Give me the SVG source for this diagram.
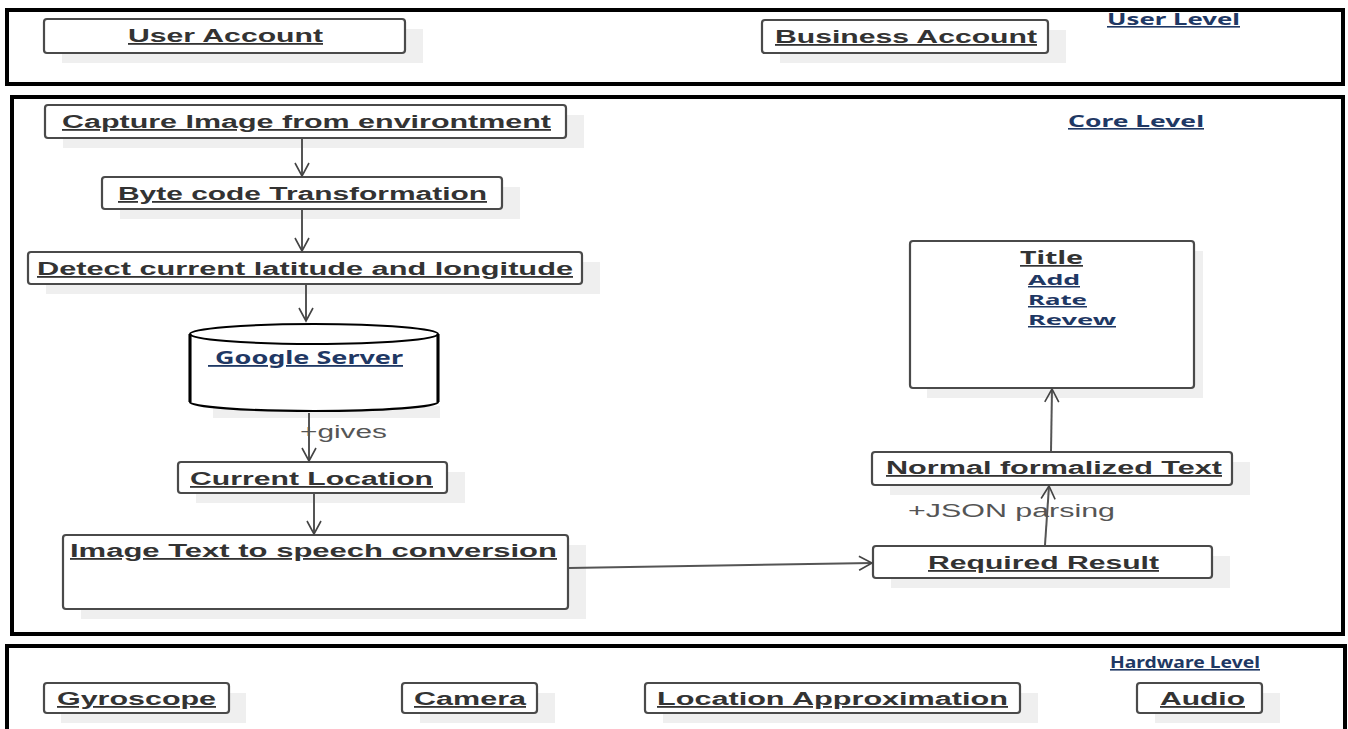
<svg xmlns="http://www.w3.org/2000/svg" width="1348" height="729" viewBox="0 0 1348 729">
<style>
.frame{fill:#fff;stroke:#000;stroke-width:4}
.box{fill:#fff;stroke:#4a4a4a;stroke-width:2.2}
.sh{fill:#efefef;stroke:none}
.t{font-family:"Liberation Sans",Arial,sans-serif;font-weight:bold;font-size:18px;fill:#333;text-decoration:underline}
.lv{font-family:"Noto Sans","Open Sans",sans-serif;font-weight:bold;font-size:16px;fill:#1f3864;text-decoration:underline}
.lb{font-family:"Liberation Sans",Arial,sans-serif;font-size:18px;fill:#555}
.c{stroke:#555;stroke-width:2;fill:none}
</style>
<defs>
<marker id="ah" markerUnits="userSpaceOnUse" markerWidth="18" markerHeight="18" refX="14" refY="8" orient="auto" viewBox="0 0 18 16">
<path d="M1,1 L14,8 L1,15" fill="none" stroke="#444" stroke-width="1.6"/>
</marker>
</defs>
<rect width="1348" height="729" fill="#fff"/>
<g id="frames">
<rect class="frame" x="7" y="10" width="1336" height="74"/>
<rect class="frame" x="12" y="97" width="1331" height="537"/>
<rect class="frame" x="7" y="646" width="1338" height="100"/>
</g>
<g id="level-labels">
<text class="lv" x="1107" y="25" textLength="133" lengthAdjust="spacingAndGlyphs">User Level</text>
<text class="lv" x="1068" y="127" textLength="136" lengthAdjust="spacingAndGlyphs">Core Level</text>
<text class="lv" x="1110" y="668" textLength="150" lengthAdjust="spacingAndGlyphs">Hardware Level</text>
</g>
<g id="user-account">
<rect class="sh" x="62" y="29" width="361" height="34"/>
<rect class="box" x="44" y="19" width="361" height="34" rx="3"/>
<text class="t" x="128" y="42" textLength="195" lengthAdjust="spacingAndGlyphs">User Account</text>
</g>
<g id="business-account">
<rect class="sh" x="780" y="30" width="286" height="33"/>
<rect class="box" x="762" y="20" width="286" height="33" rx="3"/>
<text class="t" x="775" y="43" textLength="262" lengthAdjust="spacingAndGlyphs">Business Account</text>
</g>
<g id="capture">
<rect class="sh" x="63" y="115" width="521" height="33"/>
<rect class="box" x="45" y="105" width="521" height="33" rx="3"/>
<text class="t" x="62" y="128" textLength="489" lengthAdjust="spacingAndGlyphs">Capture Image from environtment</text>
</g>
<g id="bytecode">
<rect class="sh" x="120" y="187" width="400" height="32"/>
<rect class="box" x="102" y="177" width="400" height="32" rx="3"/>
<text class="t" x="118" y="200" textLength="369" lengthAdjust="spacingAndGlyphs">Byte code Transformation</text>
</g>
<g id="detect">
<rect class="sh" x="46" y="262" width="554" height="32"/>
<rect class="box" x="28" y="252" width="554" height="32" rx="3"/>
<text class="t" x="37" y="275" textLength="536" lengthAdjust="spacingAndGlyphs">Detect current latitude and longitude</text>
</g>
<g id="google-server">
<path class="sh" d="M213,406 L440,406 L440,418 L213,418 Z"/>
<path d="M190,334 L190,402 A124,9 0 0 0 438,402 L438,334" fill="#fff" stroke="#000" stroke-width="2.2"/>
<ellipse cx="314" cy="334" rx="124" ry="10" fill="#fff" stroke="#000" stroke-width="2"/>
<line x1="190" y1="334" x2="190" y2="402" stroke="#000" stroke-width="3"/>
<line x1="438" y1="334" x2="438" y2="402" stroke="#000" stroke-width="3"/>
<text class="lv" x="208" y="364" style="font-size:18px" textLength="195" lengthAdjust="spacingAndGlyphs" xml:space="preserve"> Google Server</text>
</g>
<g id="current-location">
<rect class="sh" x="196" y="472" width="269" height="31"/>
<rect class="box" x="178" y="462" width="269" height="31" rx="3"/>
<text class="t" x="190" y="485" textLength="243" lengthAdjust="spacingAndGlyphs">Current Location</text>
</g>
<g id="image-text">
<rect class="sh" x="81" y="545" width="505" height="74"/>
<rect class="box" x="63" y="535" width="505" height="74" rx="3"/>
<text class="t" x="70" y="557" textLength="487" lengthAdjust="spacingAndGlyphs">Image Text to speech conversion</text>
</g>
<g id="required-result">
<rect class="sh" x="891" y="556" width="339" height="32"/>
<rect class="box" x="873" y="546" width="339" height="32" rx="3"/>
<text class="t" x="928" y="569" textLength="231" lengthAdjust="spacingAndGlyphs">Required Result</text>
</g>
<g id="normal-text">
<rect class="sh" x="890" y="462" width="360" height="33"/>
<rect class="box" x="872" y="452" width="360" height="33" rx="3"/>
<text class="t" x="886" y="474" textLength="336" lengthAdjust="spacingAndGlyphs">Normal formalized Text</text>
</g>
<g id="title-box">
<rect class="sh" x="927" y="251" width="276" height="147"/>
<rect class="box" x="910" y="241" width="284" height="147" rx="3"/>
<text class="lv" x="1020" y="264" style="fill:#333;font-size:17px" textLength="63" lengthAdjust="spacingAndGlyphs">Title</text>
<text class="lv" x="1028" y="285" style="font-size:15px" textLength="52" lengthAdjust="spacingAndGlyphs">Add</text>
<text class="lv" x="1028" y="305" style="font-size:15px" textLength="59" lengthAdjust="spacingAndGlyphs">Rate</text>
<text class="lv" x="1028" y="325" style="font-size:15px" textLength="88" lengthAdjust="spacingAndGlyphs">Revew</text>
</g>
<g id="gyroscope">
<rect class="sh" x="61" y="693" width="185" height="30"/>
<rect class="box" x="44" y="683" width="185" height="30" rx="3"/>
<text class="t" x="57" y="705" textLength="159" lengthAdjust="spacingAndGlyphs">Gyroscope</text>
</g>
<g id="camera">
<rect class="sh" x="420" y="693" width="135" height="30"/>
<rect class="box" x="402" y="683" width="135" height="30" rx="3"/>
<text class="t" x="414" y="705" textLength="112" lengthAdjust="spacingAndGlyphs">Camera</text>
</g>
<g id="location-approx">
<rect class="sh" x="663" y="693" width="375" height="30"/>
<rect class="box" x="645" y="683" width="375" height="30" rx="3"/>
<text class="t" x="657" y="705" textLength="351" lengthAdjust="spacingAndGlyphs">Location Approximation</text>
</g>
<g id="audio">
<rect class="sh" x="1155" y="693" width="125" height="30"/>
<rect class="box" x="1137" y="683" width="125" height="30" rx="3"/>
<text class="t" x="1160" y="705" textLength="85" lengthAdjust="spacingAndGlyphs">Audio</text>
</g>
<g id="connectors">
<line class="c" x1="302" y1="139" x2="302" y2="176" marker-end="url(#ah)"/>
<line class="c" x1="302" y1="210" x2="302" y2="251" marker-end="url(#ah)"/>
<line class="c" x1="306" y1="285" x2="306" y2="321" marker-end="url(#ah)"/>
<line class="c" x1="309" y1="413" x2="309" y2="461" marker-end="url(#ah)"/>
<line class="c" x1="314" y1="494" x2="314" y2="534" marker-end="url(#ah)"/>
<line class="c" x1="569" y1="568" x2="872" y2="563" marker-end="url(#ah)"/>
<line class="c" x1="1045" y1="545" x2="1049" y2="486" marker-end="url(#ah)"/>
<line class="c" x1="1051" y1="451" x2="1052" y2="389" marker-end="url(#ah)"/>
<text class="lb" x="300" y="438" textLength="87" lengthAdjust="spacingAndGlyphs">+gives</text>
<text class="lb" x="908" y="517" textLength="207" lengthAdjust="spacingAndGlyphs">+JSON parsing</text>
</g>
</svg>
